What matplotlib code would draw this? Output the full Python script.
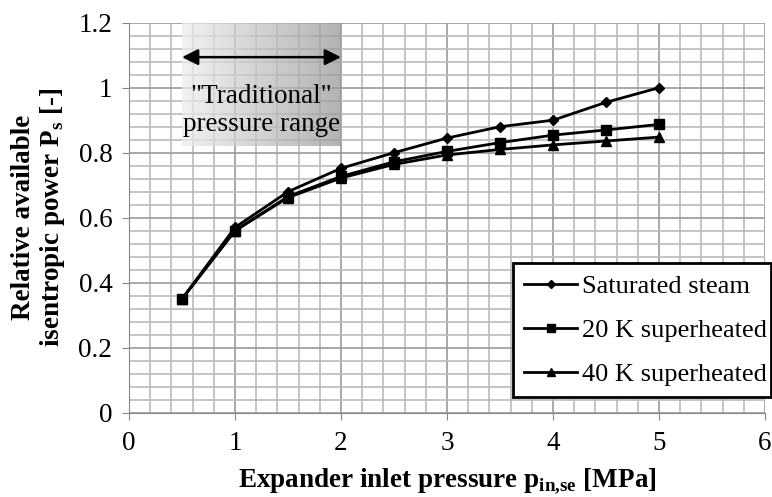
import numpy as np
import matplotlib
matplotlib.use("Agg")
import matplotlib.pyplot as plt
from matplotlib.ticker import MultipleLocator

plt.rcParams['font.family'] = ['Liberation Serif', 'DejaVu Serif']

# data
pressure = [0.5, 1.0, 1.5, 2.0, 2.5, 3.0, 3.5, 4.0, 4.5, 5.0]
saturated = [0.35, 0.57, 0.68, 0.752, 0.80, 0.845, 0.88, 0.90, 0.955, 1.0]
sh20 = [0.35, 0.56, 0.665, 0.727, 0.772, 0.804, 0.831, 0.854, 0.87, 0.887]
sh40 = [0.35, 0.56, 0.662, 0.722, 0.764, 0.793, 0.810, 0.824, 0.836, 0.848]
labels = ['Saturated steam', '20 K superheated', '40 K superheated']

fig = plt.figure(figsize=(7.72, 4.97), dpi=100)
ax = fig.add_axes([129/772, 1 - 412.7/497, 636/772, 390/497])

ax.set_xlim(0, 6)
ax.set_ylim(0, 1.2)
ax.xaxis.set_major_locator(MultipleLocator(1))
ax.xaxis.set_minor_locator(MultipleLocator(0.2))
ax.yaxis.set_major_locator(MultipleLocator(0.2))
ax.yaxis.set_minor_locator(MultipleLocator(0.04))
ax.grid(which='major', color='#999999', lw=1.2)
ax.grid(which='minor', color='#bbbbbb', lw=1.2)
ax.set_axisbelow(True)
ax.set_yticks([0, 0.2, 0.4, 0.6, 0.8, 1.0, 1.2])
ax.set_yticklabels(['0', '0.2', '0.4', '0.6', '0.8', '1', '1.2'])
ax.tick_params(which='major', direction='out', length=5, color='#888888', labelsize=19.5, pad=7)
ax.tick_params(axis='x', pad=8)
ax.tick_params(which='minor', length=0)
for s in ['top', 'right']:
    ax.spines[s].set_visible(False)
for s in ['left', 'bottom']:
    ax.spines[s].set_color('#888888')

# shaded "traditional" range with gradient
grad = np.linspace(0.93, 0.6, 256).reshape(1, -1)
ax.imshow(grad, cmap='gray', vmin=0, vmax=1, extent=[0.5, 2.0, 0.82, 1.2],
          aspect='auto', alpha=0.75, zorder=1.5)
ax.annotate('', xy=(0.5, 1.094), xytext=(2.0, 1.094),
            arrowprops=dict(arrowstyle='<|-|>', color='black', lw=1.8,
                            mutation_scale=24, shrinkA=0, shrinkB=0), zorder=3)
ax.text(1.25, 0.93, '"Traditional"\npressure range', ha='center', va='center',
        fontsize=19.5, linespacing=1.15, zorder=3)
ax.set_xlim(0, 6)
ax.set_ylim(0, 1.2)

ax.plot(pressure, saturated, color='black', lw=2, marker='D', ms=5.5, label=labels[0], zorder=4)
ax.plot(pressure, sh20, color='black', lw=2, marker='s', ms=7.5, label=labels[1], zorder=4)
ax.plot(pressure, sh40, color='black', lw=2, marker='^', ms=7, label=labels[2], zorder=4)

leg = ax.legend(loc='lower left', bbox_to_anchor=(0.604, 0.04, 0.405, 0.349), mode='expand',
                fontsize=19, frameon=True, fancybox=False, edgecolor='black',
                framealpha=1, borderpad=0.42, labelspacing=0.78, handlelength=2.0,
                handletextpad=0.2, markerscale=0.75, borderaxespad=0)
leg.get_frame().set_linewidth(2.0)

ax.set_xlabel(r'Expander inlet pressure p$_{\mathregular{in{,}se}}$ [MPa]', fontsize=19.5,
              fontweight='bold', labelpad=8)
ax.set_ylabel('Relative available\nisentropic power P$_{\\mathregular{s}}$ [-]', fontsize=19.5,
              fontweight='bold', labelpad=8, linespacing=1.1)

fig.savefig('out.png', dpi=100)
